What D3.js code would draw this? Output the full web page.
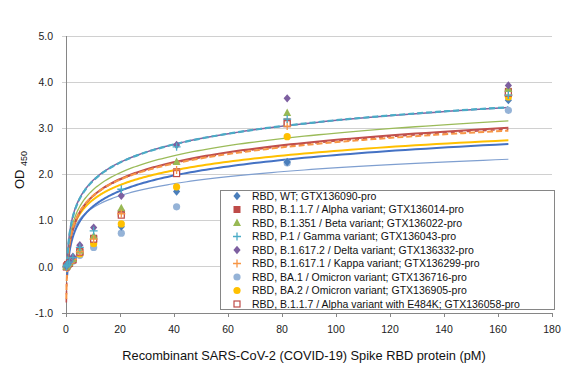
<!DOCTYPE html>
<html><head><meta charset="utf-8">
<script src="https://cdn.jsdelivr.net/npm/d3@7"></script>
<style>body{margin:0;background:#fff}svg{display:block;font-family:"Liberation Sans",Arial,sans-serif}</style>
</head><body><svg id="c" width="582" height="378"></svg>
<script>
const concentrations = [0.16, 0.32, 0.64, 1.28, 2.56, 5.12, 10.24, 20.48, 40.96, 81.92, 163.84];
const seriesNames = [
  "RBD, WT; GTX136090-pro",
  "RBD, B.1.1.7 / Alpha variant; GTX136014-pro",
  "RBD, B.1.351 / Beta variant; GTX136022-pro",
  "RBD, P.1 / Gamma variant; GTX136043-pro",
  "RBD, B.1.617.2 / Delta variant; GTX136332-pro",
  "RBD, B.1.617.1 / Kappa variant; GTX136299-pro",
  "RBD, BA.1 / Omicron variant; GTX136716-pro",
  "RBD, BA.2 / Omicron variant; GTX136905-pro",
  "RBD, B.1.1.7 / Alpha variant with E484K; GTX136058-pro"
];
const wtValues     = [0.00, 0.02, 0.04, 0.08, 0.15, 0.30, 0.55, 0.87, 1.63, 2.27, 3.61];
const alphaValues  = [0.00, 0.02, 0.05, 0.08, 0.16, 0.33, 0.62, 1.16, 2.06, 3.14, 3.80];
const betaValues   = [0.00, 0.02, 0.05, 0.09, 0.17, 0.35, 0.66, 1.27, 2.27, 3.33, 3.85];
const gammaValues  = [0.00, 0.03, 0.06, 0.10, 0.20, 0.42, 0.78, 1.68, 2.60, 3.20, 3.72];
const deltaValues  = [0.01, 0.03, 0.06, 0.11, 0.22, 0.47, 0.85, 1.54, 2.64, 3.65, 3.93];
const kappaValues  = [0.00, 0.02, 0.05, 0.08, 0.16, 0.33, 0.60, 1.15, 2.10, 3.05, 3.72];
const ba1Values    = [0.00, 0.01, 0.03, 0.06, 0.12, 0.25, 0.42, 0.73, 1.30, 2.25, 3.39];
const ba2Values    = [0.00, 0.01, 0.04, 0.07, 0.14, 0.28, 0.50, 0.93, 1.73, 2.82, 3.68];
const e484kValues  = [0.00, 0.02, 0.05, 0.08, 0.15, 0.32, 0.60, 1.12, 2.02, 3.10, 3.76];
// logarithmic trendlines y = slope*ln(x) + intercept
const trendSlopes     = [0.483, 0.527, 0.534, 0.570, 0.565, 0.505, 0.375, 0.460, 0.520];
const trendIntercepts = [0.197, 0.323, 0.437, 0.550, 0.570, 0.375, 0.418, 0.394, 0.330];
const trendStart      = [0.45, 0.45, 0.45, 0.45, 0.45, 0.12, 0.45, 0.45, 0.12];
const xTicks = [0, 20, 40, 60, 80, 100, 120, 140, 160, 180];
const yTicks = [-1, 0, 1, 2, 3, 4, 5];

const allValues = [wtValues, alphaValues, betaValues, gammaValues, deltaValues, kappaValues, ba1Values, ba2Values, e484kValues];
const markerColors = ["#4a7ebb", "#be4b48", "#98b954", "#4bacc6", "#7d5fa0", "#f79646", "#95b3d7", "#ffc000", "#be4b48"];
const markerTypes = ["diamond", "square", "triangle", "plus", "diamond", "plus", "circle", "circle", "hollowSquare"];
const lineColors = ["#4472c4", "#c0504d", "#9bbb59", "#4bacc6", "#8064a2", "#f79646", "#7f9fd0", "#ffc000", "#c0504d"];
const lineWidths = [2, 2, 1.3, 2.2, 1.5, 2, 1.2, 2, 1.6];
const lineDash = [null, null, null, "6,3", null, "6,3", null, null, "4,4"];
const drawOrder = [6, 0, 7, 1, 8, 2, 5, 4, 3];

const svg = d3.select("#c");
const x = d3.scaleLinear().domain([0, 180]).range([66, 552]);
const y = d3.scaleLinear().domain([-1, 5]).range([313, 36]);

// gridlines
svg.append("g").selectAll("line").data(yTicks).join("line")
  .attr("x1", 62).attr("x2", 552).attr("y1", d => y(d)).attr("y2", d => y(d))
  .attr("stroke", d => d === -1 ? "#868686" : "#d0d0d0").attr("stroke-width", 1)
  .attr("shape-rendering", "crispEdges");
// y axis line
svg.append("line").attr("x1", x(0)).attr("x2", x(0)).attr("y1", y(5)).attr("y2", y(-1))
  .attr("stroke", "#868686").attr("shape-rendering", "crispEdges");
// x tick marks
svg.append("g").selectAll("line").data(xTicks).join("line")
  .attr("x1", d => x(d)).attr("x2", d => x(d)).attr("y1", y(-1)).attr("y2", y(-1) + 4)
  .attr("stroke", "#868686").attr("shape-rendering", "crispEdges");
// tick labels
svg.append("g").selectAll("text").data(yTicks).join("text")
  .attr("x", 53).attr("y", d => y(d)).attr("dy", "0.35em").attr("text-anchor", "end")
  .attr("font-size", 10.5).attr("fill", "#222").text(d => d.toFixed(1));
svg.append("g").selectAll("text").data(xTicks).join("text")
  .attr("x", d => x(d)).attr("y", 329).attr("dy", "0.35em").attr("text-anchor", "middle")
  .attr("font-size", 10.5).attr("fill", "#222").text(d => d);
// axis titles
svg.append("text").attr("x", 304).attr("y", 360).attr("text-anchor", "middle")
  .attr("font-size", 12.8).attr("fill", "#111")
  .text("Recombinant SARS-CoV-2 (COVID-19) Spike RBD protein (pM)");
const yt = svg.append("text").attr("transform", "translate(24,170) rotate(-90)")
  .attr("text-anchor", "middle").attr("fill", "#111");
yt.append("tspan").attr("font-size", 13).text("OD ");
yt.append("tspan").attr("font-size", 9).attr("dy", 3).text("450");

// trendlines
const lineGen = d3.line().x(d => x(d[0])).y(d => y(d[1]));
drawOrder.forEach(i => {
  const pts = [];
  const x0 = trendStart[i], x1 = concentrations[concentrations.length - 1];
  for (let k = 0; k <= 200; k++) {
    const xv = x0 * Math.pow(x1 / x0, k / 200);
    pts.push([xv, trendSlopes[i] * Math.log(xv) + trendIntercepts[i]]);
  }
  svg.append("path").attr("d", lineGen(pts)).attr("fill", "none")
    .attr("stroke", lineColors[i]).attr("stroke-width", lineWidths[i])
    .attr("stroke-dasharray", lineDash[i]);
});

function drawMarker(g, type, color, cx, cy) {
  const s = 3.6;
  if (type === "diamond") {
    g.append("path").attr("d", `M${cx},${cy - s - 0.6}L${cx + s},${cy}L${cx},${cy + s + 0.6}L${cx - s},${cy}Z`).attr("fill", color);
  } else if (type === "square") {
    g.append("rect").attr("x", cx - 3.5).attr("y", cy - 3.5).attr("width", 7).attr("height", 7).attr("fill", color);
  } else if (type === "hollowSquare") {
    g.append("rect").attr("x", cx - 3).attr("y", cy - 3).attr("width", 6).attr("height", 6).attr("fill", "#fff").attr("stroke", color).attr("stroke-width", 1.2);
  } else if (type === "triangle") {
    g.append("path").attr("d", `M${cx},${cy - 4.5}L${cx + 4},${cy + 3}L${cx - 4},${cy + 3}Z`).attr("fill", color);
  } else if (type === "plus") {
    g.append("path").attr("d", `M${cx - 4},${cy}H${cx + 4}M${cx},${cy - 4}V${cy + 4}`).attr("stroke", color).attr("stroke-width", 1.3);
  } else if (type === "circle") {
    g.append("circle").attr("cx", cx).attr("cy", cy).attr("r", 3.6).attr("fill", color);
  }
}
// points
const pg = svg.append("g");
drawOrder.forEach(i => {
  allValues[i].forEach((v, k) => drawMarker(pg, markerTypes[i], markerColors[i], x(concentrations[k]), y(v)));
});

// legend
const lg = svg.append("g");
lg.append("rect").attr("x", 220.5).attr("y", 190.5).attr("width", 334).attr("height", 119)
  .attr("fill", "#fff").attr("stroke", "#868686");
seriesNames.forEach((name, i) => {
  const cy = 196 + i * 13.5;
  drawMarker(lg, markerTypes[i], markerColors[i], 237, cy);
  lg.append("text").attr("x", 252).attr("y", cy).attr("dy", "0.35em")
    .attr("font-size", 10.5).attr("fill", "#111").text(name);
});
</script></body></html>
